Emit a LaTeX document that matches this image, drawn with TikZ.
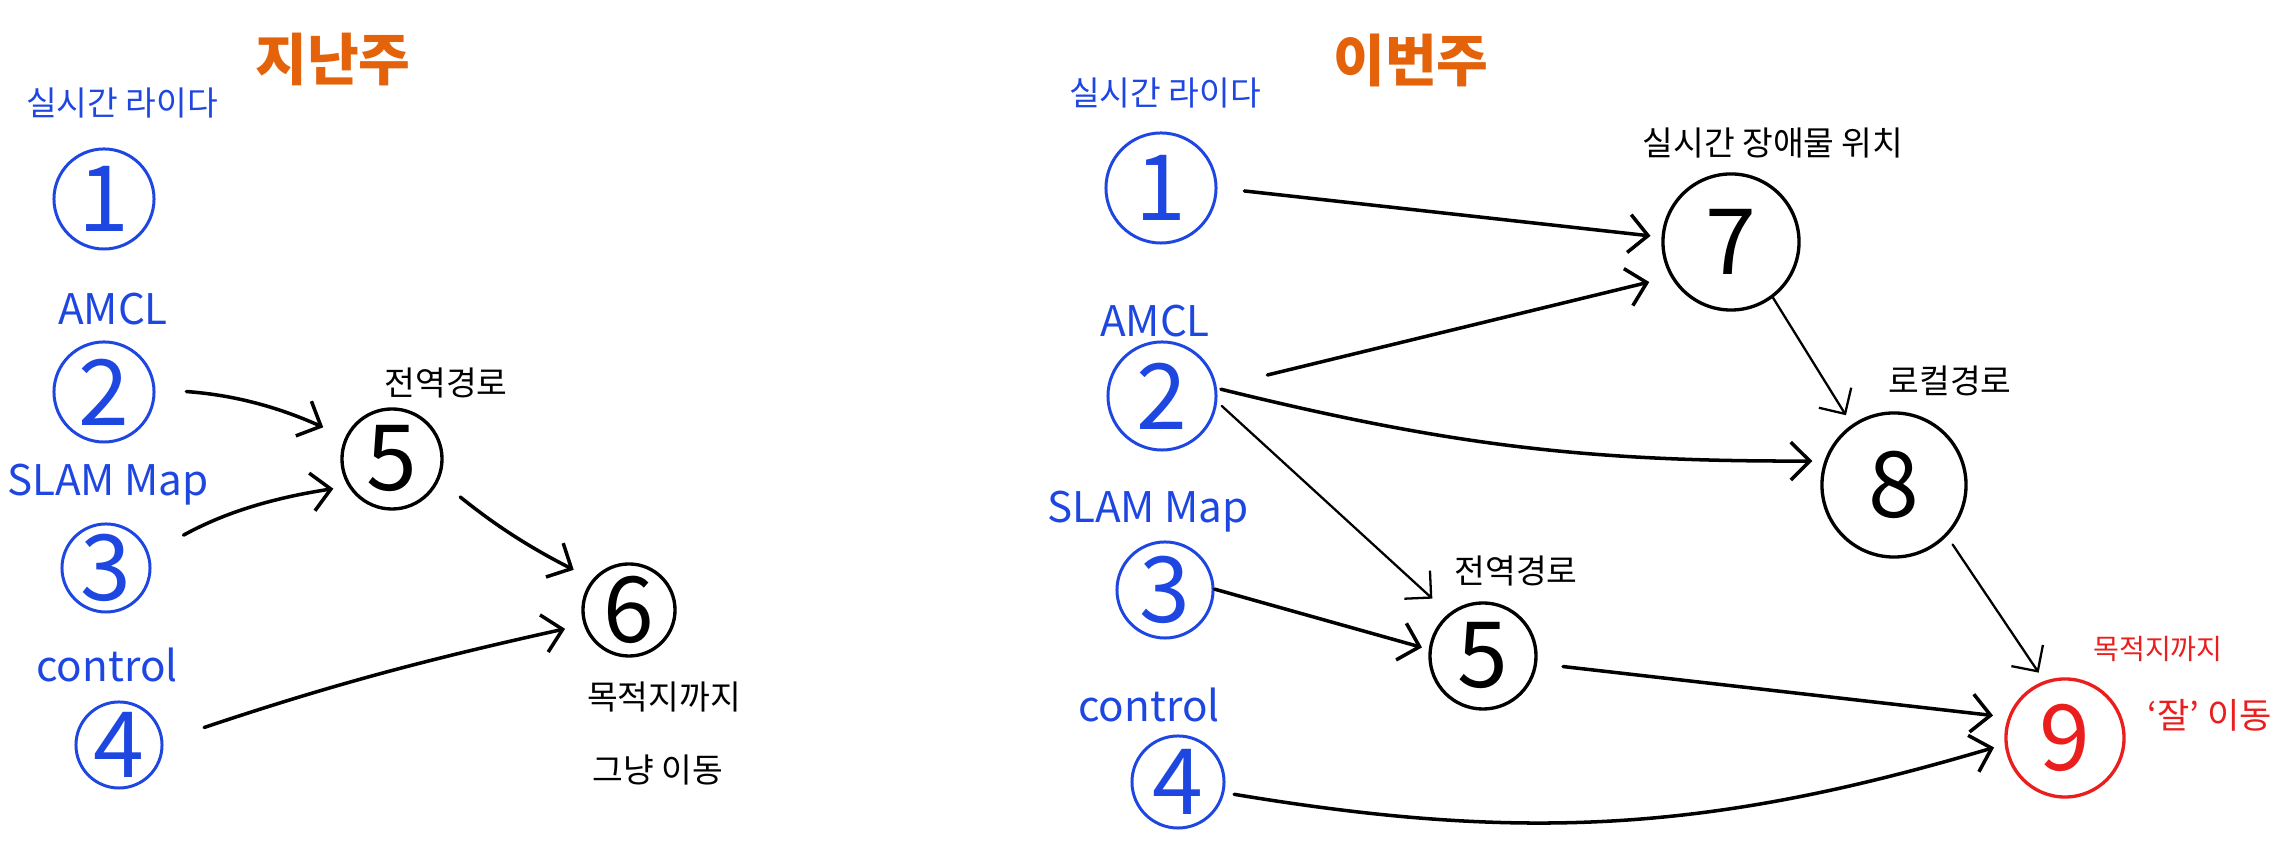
\documentclass[tikz,border=0pt]{standalone}
\usepackage{fontspec}
\setmainfont{Noto Sans CJK KR}
\usetikzlibrary{arrows.meta}
\definecolor{penblue}{RGB}{30,70,225}
\definecolor{penred}{RGB}{235,30,30}
\definecolor{headorange}{RGB}{228,98,10}
\tikzset{
        input/.style={circle, draw=penblue, line width=0.85pt, inner sep=0pt, text=penblue, font=\fontsize{26}{26}\selectfont},
        proc/.style={circle, draw=black, line width=0.95pt, inner sep=0pt, font=\fontsize{26}{26}\selectfont},
        goal/.style={circle, draw=penred, line width=0.95pt, inner sep=0pt, text=penred, font=\fontsize{26}{26}\selectfont},
        inlabel/.style={text=penblue, inner sep=0pt, font=\fontsize{9.5}{11}\selectfont},
        inlatin/.style={text=penblue, inner sep=0pt, font=\fontsize{12}{14}\selectfont},
        note/.style={inner sep=0pt, font=\fontsize{9.5}{11}\selectfont},
        goalnote/.style={text=penred, inner sep=0pt, font=\fontsize{8}{10}\selectfont},
        heading/.style={text=headorange, inner sep=0pt, font=\fontsize{16}{18}\selectfont\bfseries},
        flow/.style={-{Straight Barb[length=1.9mm, width=3.8mm]}, line width=1pt, line cap=round},
        flowthin/.style={flow, line width=0.65pt}
          }

\begin{document}
\begin{tikzpicture}[x=0.01cm, y=0.01cm]
        \useasboundingbox (0,0) rectangle (2290,855);
        % last week
        \node[heading] (tlast) at (333,795) {지난주};
        \node[inlabel] (la1) at (122,752) {실시간 라이다};
        \node[input, minimum size=1cm] (l1) at (104,656) {1};
        \node[inlatin] (la2) at (113,546) {AMCL};
        \node[input, minimum size=1cm] (l2) at (104,463) {2};
        \node[inlatin] (la3) at (108,370) {SLAM Map};
        \node[input, minimum size=0.88cm] (l3) at (106,287) {3};
        \node[inlatin] (la4) at (107,190) {control};
        \node[input, minimum size=0.86cm] (l4) at (119,110) {4};
        \node[note] (ll5) at (446,472) {전역경로};
        \node[proc, minimum size=1cm] (l5) at (392,396) {5};
        \node[proc, minimum size=0.92cm] (l6) at (629,245) {6};
        \node[note] (ll6a) at (664,158) {목적지까지};
        \node[note] (ll6b) at (658,85) {그냥 이동};

        \draw[flow, shorten <=0.31cm, shorten >=0.24cm] (l2.3) to[bend left=10] (l5.155);
        \draw[flow, shorten <=0.39cm, shorten >=0.15cm] (l3.18) to[bend left=10] (l5.212);
        \draw[flow, shorten <=0.27cm, shorten >=0.21cm] (l5.-24) to[bend right=6] (l6.140);
        \draw[flow, shorten <=0.43cm, shorten >=0.19cm] (l4.5) to[bend left=3] (l6.198);

        % this week
        \node[heading] (tthis) at (1411,795) {이번주};
        \node[inlabel] (ra1) at (1165,762) {실시간 라이다};
        \node[input, minimum size=1.1cm] (r1) at (1161,667) {1};
        \node[inlatin] (ra2) at (1155,534) {AMCL};
        \node[input, minimum size=1.08cm] (r2) at (1162,459) {2};
        \node[inlatin] (ra3) at (1148,343) {SLAM Map};
        \node[input, minimum size=0.96cm] (r3) at (1165,265) {3};
        \node[inlatin] (ra4) at (1149,150) {control};
        \node[input, minimum size=0.92cm] (r4) at (1178,73) {4};
        \node[note] (rl7) at (1773,712) {실시간 장애물 위치};
        \node[proc, minimum size=1.36cm] (r7) at (1731,613) {7};
        \node[note] (rl8) at (1950,474) {로컬경로};
        \node[proc, minimum size=1.44cm] (r8) at (1894,370) {8};
        \node[note] (rl5) at (1516,284) {전역경로};
        \node[proc, minimum size=1.06cm] (r5) at (1483,199) {5};
        \node[goal, minimum size=1.18cm] (r9) at (2065,117) {9};
        \node[goalnote] (rl9a) at (2158,206) {목적지까지};
        \node[goalnote, font=\fontsize{10}{12}\selectfont] (rl9b) at (2210,140) {‘잘’ 이동};

        \draw[flow, shorten <=0.27cm, shorten >=0.11cm] (r1.0) -- (r7.176);
        \draw[flow, shorten <=0.52cm, shorten >=0.22cm] (r2.9) -- (r7.210);
        \draw[flow, shorten <=0.04cm, shorten >=0.12cm] (r2.8) to[bend right=7] (r8.161);
        \draw[flowthin, shorten <=0.06cm, shorten >=0.22cm] (r2.-6) -- (r5.129);
        \draw[flowthin, shorten >=0.11cm] (r7.-53) -- (r8.125);
        \draw[flow, shorten >=0.07cm] (r3.1) -- (r5.173);
        \draw[flow, shorten <=0.26cm, shorten >=0.15cm] (r5.-8) -- (r9.160);
        \draw[flowthin, shorten <=0.1cm, shorten >=0.1cm] (r8.-44) -- (r9.110);
        \draw[flow, shorten <=0.1cm, shorten >=0.11cm] (r4.-13) to[bend right=13] (r9.186);
\end{tikzpicture}
\end{document}
